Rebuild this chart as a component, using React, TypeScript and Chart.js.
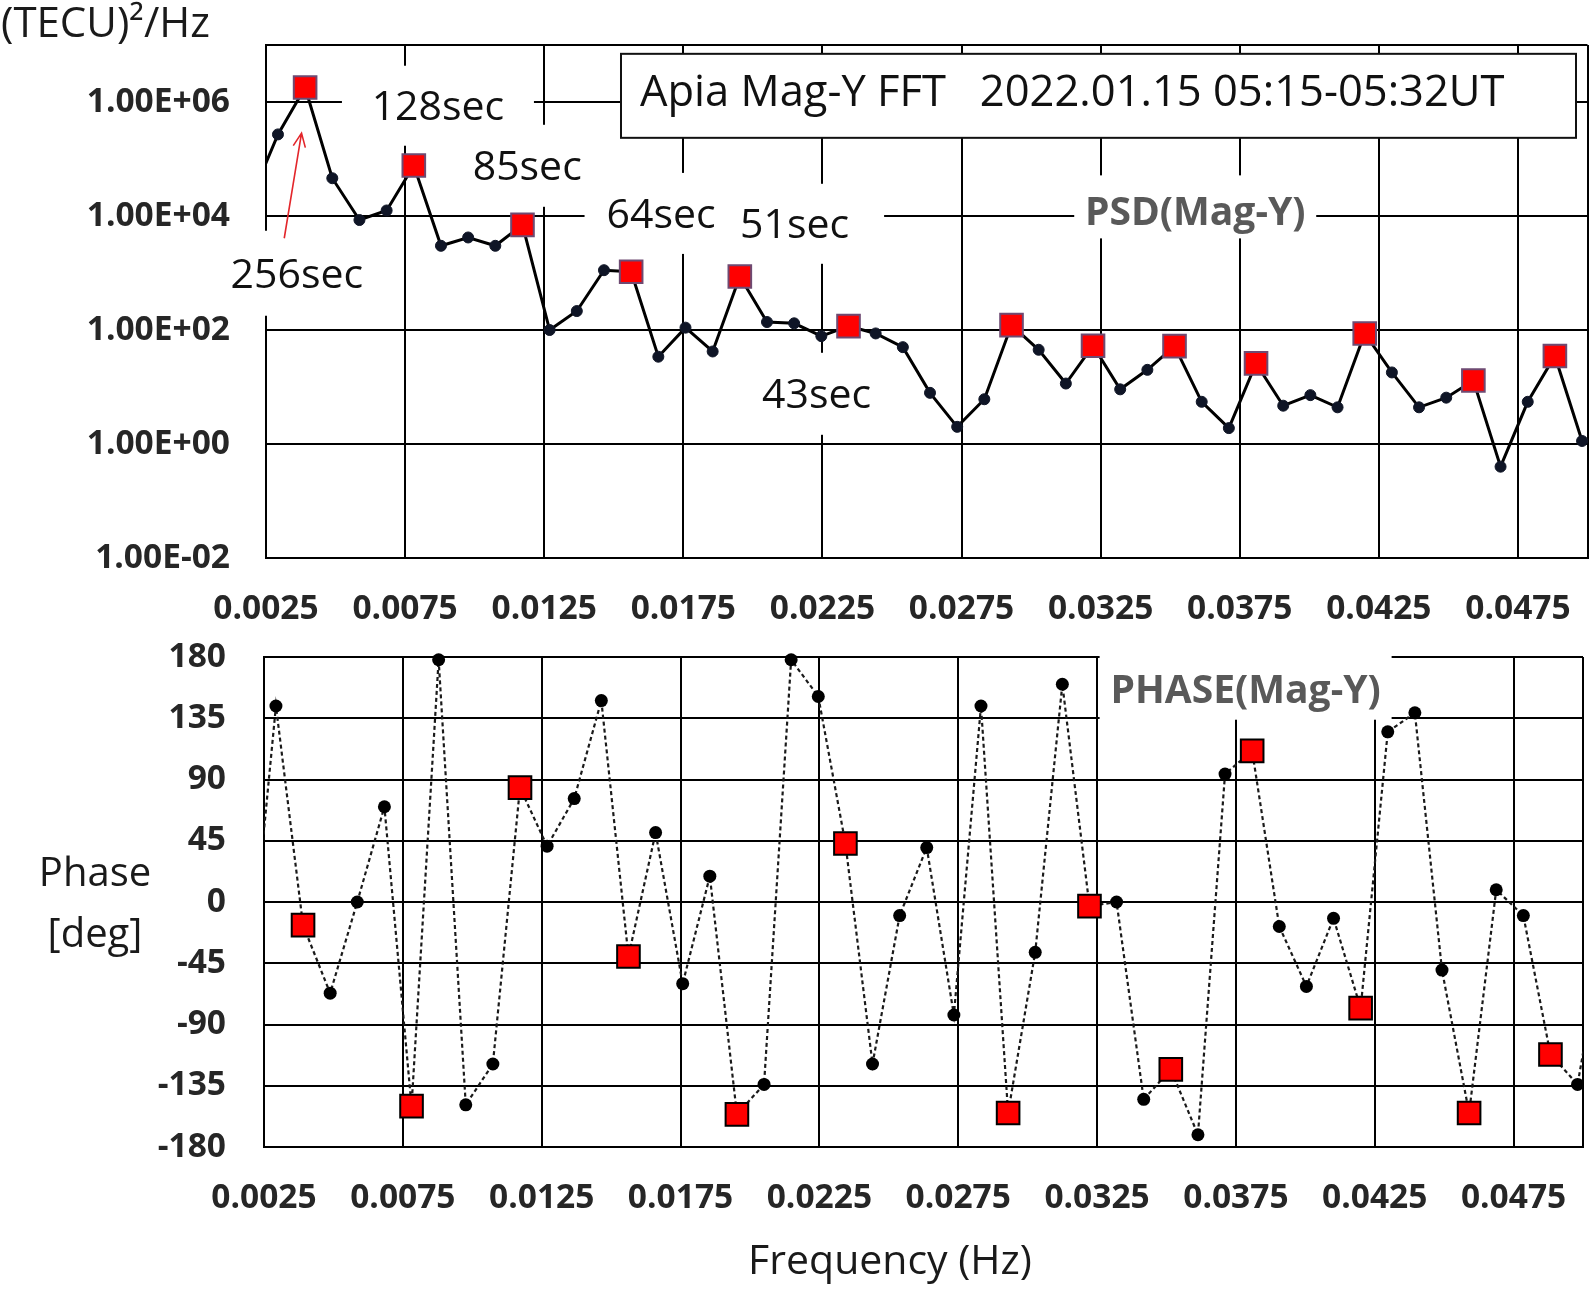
import React, { useEffect, useRef } from 'react';
import { Chart, registerables } from 'chart.js';

Chart.register(...registerables);

// ---------------- data ----------------
const binNumbers = [2, 3, 4, 5, 6, 7, 8, 9, 10, 11, 12, 13, 14, 15, 16, 17, 18, 19, 20, 21, 22, 23, 24, 25, 26, 27,
  28, 29, 30, 31, 32, 33, 34, 35, 36, 37, 38, 39, 40, 41, 42, 43, 44, 45, 46, 47, 48, 49, 50, 51, 52];

const frequencies = [0.001953, 0.00293, 0.003906, 0.004883, 0.005859, 0.006836, 0.007813, 0.008789, 0.009766,
  0.010742, 0.011719, 0.012695, 0.013672, 0.014648, 0.015625, 0.016602, 0.017578, 0.018555, 0.019531, 0.020508,
  0.021484, 0.022461, 0.023438, 0.024414, 0.025391, 0.026367, 0.027344, 0.02832, 0.029297, 0.030273, 0.03125,
  0.032227, 0.033203, 0.03418, 0.035156, 0.036133, 0.037109, 0.038086, 0.039063, 0.040039, 0.041016, 0.041992,
  0.042969, 0.043945, 0.044922, 0.045898, 0.046875, 0.047852, 0.048828, 0.049805, 0.050781];

const psdValues: (number | null)[] = [2.0e4, 2.7e5, 1.8e6, 4.6e4, 8.5e3, 1.25e4, 7.7e4, 3.0e3, 4.2e3, 3.0e3, 7.0e3,
  100, 215, 1120, 1050, 34, 110, 42, 870, 138, 131, 78, 117, 87, 50, 7.9, 2.0, 6.1, 122, 45, 11.5, 53, 9.1, 20, 52,
  5.5, 1.9, 26, 4.7, 7.2, 4.4, 87, 18, 4.4, 6.5, 13, 0.4, 5.5, 35, 1.13, null];

const phaseValues = [-63, 144, -17, -67, 0, 70, -150, 178, -149, -119, 84, 41, 76, 148, -40, 51, -60, 19, -156,
  -134, 178, 151, 43, -119, -10, 40, -83, 144, -155, -37, 160, -3, 0, -145, -123, -171, 94, 111, -18, -62, -12, -78,
  125, 139, -50, -155, 9, -10, -112, -134, -20];

const peakBins = [4, 8, 12, 16, 20, 24, 30, 33, 36, 39, 43, 47, 50];

const xTickValues = [0.0025, 0.0075, 0.0125, 0.0175, 0.0225, 0.0275, 0.0325, 0.0375, 0.0425, 0.0475, 0.05];
const xTickLabels = ['0.0025', '0.0075', '0.0125', '0.0175', '0.0225', '0.0275', '0.0325', '0.0375', '0.0425', '0.0475', ''];

const psdTickValues = [1e-2, 1, 1e2, 1e4, 1e6, 1e7];
const psdTickLabels = ['1.00E-02', '1.00E+00', '1.00E+02', '1.00E+04', '1.00E+06', ''];

const phaseTickValues = [-180, -135, -90, -45, 0, 45, 90, 135, 180];
const phaseTickLabels = ['-180', '-135', '-90', '-45', '0', '45', '90', '135', '180'];

const titleText = 'Apia Mag-Y FFT   2022.01.15 05:15-05:32UT';
const psdLabel = 'PSD(Mag-Y)';
const phaseLabel = 'PHASE(Mag-Y)';
const psdAxisTitle = '(TECU)\u00B2/Hz';
const phaseAxisTitle = ['Phase', '[deg]'];
const freqAxisTitle = 'Frequency (Hz)';

// ---------------- annotation layout (data coordinates + pixel box sizes) ----------------
type Note = { text: string; x: number; y: number; boxW: number; boxH: number; size: number; color: string; bold?: boolean; boxDy?: number };

const TEXT_FONT = '"Open Sans", "DejaVu Sans", sans-serif';

const psdNotes: Note[] = [
  { text: '128sec', x: 0.00868, y: 8.6e5, boxW: 192, boxH: 80, size: 41, color: '#111' },
  { text: '85sec', x: 0.01189, y: 7.6e4, boxW: 160, boxH: 82, size: 41, color: '#111' },
  { text: '64sec', x: 0.0167, y: 1.11e4, boxW: 153, boxH: 81, size: 41, color: '#111' },
  { text: '51sec', x: 0.0215, y: 7.3e3, boxW: 179, boxH: 80, size: 41, color: '#111' },
  { text: '43sec', x: 0.02229, y: 7.6, boxW: 160, boxH: 82, size: 41, color: '#111' },
  { text: '256sec', x: 0.00361, y: 990, boxW: 170, boxH: 85, size: 41, color: '#111' },
  { text: psdLabel, x: 0.0359, y: 1.23e4, boxW: 242, boxH: 63, size: 39, color: '#595959', bold: true, boxDy: -4 },
];

const titleBox = { x: 0.01526, y: 7.0e6, w: 955, h: 84, textDx: 19, baseDy: 52, size: 43.5 };
const arrowNote = { x1: 0.003156, y1: 4.07e3, x2: 0.003777, y2: 2.85e5 };

const phaseNotes: Note[] = [
  { text: phaseLabel, x: 0.03785, y: 156.7, boxW: 292, boxH: 76, size: 39, color: '#595959', bold: true, boxDy: -7 },
];

const isPeak = (i: number) => peakBins.includes(binNumbers[i]);

const tickFont = { family: TEXT_FONT, size: 33.5, weight: 'bold' as const };

function drawNotes(chart: any, notes: Note[]) {
  const ctx = chart.ctx;
  const xs = chart.scales.x;
  const ys = chart.scales.y;
  ctx.save();
  ctx.fillStyle = '#ffffff';
  for (const n of notes) {
    const cx = xs.getPixelForValue(n.x);
    const cy = ys.getPixelForValue(n.y);
    ctx.fillRect(cx - n.boxW / 2, cy - n.boxH / 2 + (n.boxDy || 0), n.boxW, n.boxH);
  }
  for (const n of notes) {
    const cx = xs.getPixelForValue(n.x);
    const cy = ys.getPixelForValue(n.y);
    ctx.font = `${n.bold ? 'bold ' : ''}${n.size}px ${TEXT_FONT}`;
    ctx.fillStyle = n.color;
    ctx.textAlign = 'center';
    ctx.textBaseline = 'alphabetic';
    ctx.fillText(n.text, cx, cy + 0.357 * n.size);
  }
  ctx.restore();
}

const psdDecor = {
  id: 'psdDecor',
  beforeDatasetsDraw(chart: any) {
    drawNotes(chart, psdNotes);
    const ctx = chart.ctx;
    const xs = chart.scales.x;
    const ys = chart.scales.y;
    const bx = xs.getPixelForValue(titleBox.x);
    const by = ys.getPixelForValue(titleBox.y);
    ctx.save();
    ctx.fillStyle = '#ffffff';
    ctx.fillRect(bx, by, titleBox.w, titleBox.h);
    ctx.strokeStyle = '#111';
    ctx.lineWidth = 2;
    ctx.strokeRect(bx, by, titleBox.w, titleBox.h);
    ctx.font = `${titleBox.size}px ${TEXT_FONT}`;
    ctx.fillStyle = '#111';
    ctx.textAlign = 'left';
    ctx.textBaseline = 'alphabetic';
    ctx.fillText(titleText, bx + titleBox.textDx, by + titleBox.baseDy);
    ctx.restore();
  },
  afterDatasetsDraw(chart: any) {
    const ctx = chart.ctx;
    const xs = chart.scales.x;
    const ys = chart.scales.y;
    const x1 = xs.getPixelForValue(arrowNote.x1);
    const y1 = ys.getPixelForValue(arrowNote.y1);
    const x2 = xs.getPixelForValue(arrowNote.x2);
    const y2 = ys.getPixelForValue(arrowNote.y2);
    const ang = Math.atan2(y2 - y1, x2 - x1);
    ctx.save();
    ctx.strokeStyle = '#e3262b';
    ctx.lineWidth = 1.6;
    ctx.beginPath();
    ctx.moveTo(x1, y1);
    ctx.lineTo(x2, y2);
    const L = 15;
    const spread = 0.42;
    ctx.moveTo(x2 - L * Math.cos(ang - spread), y2 - L * Math.sin(ang - spread));
    ctx.lineTo(x2, y2);
    ctx.lineTo(x2 - L * Math.cos(ang + spread), y2 - L * Math.sin(ang + spread));
    ctx.stroke();
    ctx.restore();
  },
  afterDraw(chart: any) {
    const ctx = chart.ctx;
    ctx.save();
    ctx.font = `42px ${TEXT_FONT}`;
    ctx.fillStyle = '#1a1a1a';
    ctx.textAlign = 'left';
    ctx.textBaseline = 'alphabetic';
    ctx.fillText(psdAxisTitle, 1, 37);
    ctx.restore();
  },
};

const phaseDecor = {
  id: 'phaseDecor',
  beforeDatasetsDraw(chart: any) {
    drawNotes(chart, phaseNotes);
  },
  afterDraw(chart: any) {
    const ctx = chart.ctx;
    ctx.save();
    ctx.font = `40px ${TEXT_FONT}`;
    ctx.fillStyle = '#1a1a1a';
    ctx.textAlign = 'center';
    ctx.textBaseline = 'alphabetic';
    ctx.fillText(phaseAxisTitle[0], 95, 266);
    ctx.fillText(phaseAxisTitle[1], 95, 327);
    ctx.font = `41px ${TEXT_FONT}`;
    ctx.fillText(freqAxisTitle, 890, 654);
    ctx.restore();
  },
};

function xScale(labelPad: number, height: number) {
  return {
    type: 'linear' as const,
    min: 0.0025,
    max: 0.05,
    afterBuildTicks: (scale: any) => {
      scale.ticks = xTickValues.map((v) => ({ value: v }));
    },
    afterFit: (scale: any) => {
      scale.height = height;
      scale.paddingLeft = 0;
      scale.paddingRight = 0;
    },
    ticks: {
      callback: (_v: any, i: number) => xTickLabels[i],
      font: tickFont,
      color: '#262626',
      padding: labelPad,
      maxRotation: 0,
      autoSkip: false,
    },
    grid: { color: '#000', lineWidth: 2, drawTicks: false },
    border: { display: true, color: '#000', width: 2 },
  };
}

function yFit(width: number) {
  return (scale: any) => {
    scale.width = width;
    scale.paddingTop = 0;
    scale.paddingBottom = 0;
  };
}

export default function App() {
  const topRef = useRef<HTMLCanvasElement | null>(null);
  const botRef = useRef<HTMLCanvasElement | null>(null);

  useEffect(() => {
    const psdChart = new Chart(topRef.current as HTMLCanvasElement, {
      type: 'line',
      data: {
        datasets: [
          {
            label: 'PSD',
            data: frequencies.map((f, i) => ({ x: f, y: psdValues[i] as any })),
            borderColor: '#000',
            borderWidth: 3,
            tension: 0,
            spanGaps: false,
            clip: { left: 0, right: 3, top: 10, bottom: 10 } as any,
            pointStyle: (c: any) => (isPeak(c.dataIndex) ? 'rect' : 'circle'),
            pointRadius: (c: any) => (isPeak(c.dataIndex) ? 16 : 5.5),
            pointBackgroundColor: (c: any) => (isPeak(c.dataIndex) ? '#ff0000' : '#0f1526'),
            pointBorderColor: (c: any) => (isPeak(c.dataIndex) ? '#6e4a72' : '#0f1526'),
            pointBorderWidth: (c: any) => (isPeak(c.dataIndex) ? 2 : 1),
          },
        ],
      },
      options: {
        animation: false,
        responsive: false,
        devicePixelRatio: 1,
        layout: { padding: { left: 0, top: 45, right: 3, bottom: 0 } },
        plugins: { legend: { display: false }, tooltip: { enabled: false } },
        scales: {
          x: xScale(31, 82) as any,
          y: {
            type: 'logarithmic',
            min: 1e-2,
            max: 1e7,
            afterBuildTicks: (scale: any) => {
              scale.ticks = psdTickValues.map((v) => ({ value: v }));
            },
            afterFit: yFit(266),
            ticks: {
              callback: (_v: any, i: number) => psdTickLabels[i],
              font: tickFont,
              color: '#262626',
              padding: 36,
              autoSkip: false,
            },
            grid: { color: '#000', lineWidth: 2, drawTicks: false },
            border: { display: true, color: '#000', width: 2 },
          } as any,
        },
      },
      plugins: [psdDecor],
    });

    const phaseChart = new Chart(botRef.current as HTMLCanvasElement, {
      type: 'line',
      data: {
        datasets: [
          {
            label: 'Phase',
            data: frequencies.map((f, i) => ({ x: f, y: phaseValues[i] })),
            borderColor: '#1a1a1a',
            borderWidth: 2.2,
            borderDash: [4, 3],
            tension: 0,
            clip: { left: 0, right: 0, top: 12, bottom: 12 } as any,
            pointStyle: (c: any) => (isPeak(c.dataIndex) ? 'rect' : 'circle'),
            pointRadius: (c: any) => (isPeak(c.dataIndex) ? 16 : 6.5),
            pointBackgroundColor: (c: any) => (isPeak(c.dataIndex) ? '#ff0000' : '#000'),
            pointBorderColor: '#000',
            pointBorderWidth: (c: any) => (isPeak(c.dataIndex) ? 2 : 0),
          },
        ],
      },
      options: {
        animation: false,
        responsive: false,
        devicePixelRatio: 1,
        layout: { padding: { left: 0, top: 37, right: 11, bottom: 0 } },
        plugins: { legend: { display: false }, tooltip: { enabled: false } },
        scales: {
          x: xScale(31, 143) as any,
          y: {
            type: 'linear',
            min: -180,
            max: 180,
            afterBuildTicks: (scale: any) => {
              scale.ticks = phaseTickValues.map((v) => ({ value: v }));
            },
            afterFit: yFit(264),
            ticks: {
              callback: (_v: any, i: number) => phaseTickLabels[i],
              font: tickFont,
              color: '#262626',
              padding: 38,
              autoSkip: false,
            },
            grid: { color: '#000', lineWidth: 2, drawTicks: false },
            border: { display: true, color: '#000', width: 2 },
          } as any,
        },
      },
      plugins: [phaseDecor],
    });

    return () => {
      psdChart.destroy();
      phaseChart.destroy();
    };
  }, []);

  return (
    <div style={{ position: 'absolute', left: 0, top: 0, width: 1594, height: 1290, background: '#fff', overflow: 'hidden' }}>
      <canvas ref={topRef} width={1594} height={640} style={{ position: 'absolute', left: 0, top: 0, width: 1594, height: 640 }} />
      <canvas ref={botRef} width={1594} height={670} style={{ position: 'absolute', left: 0, top: 620, width: 1594, height: 670 }} />
    </div>
  );
}
